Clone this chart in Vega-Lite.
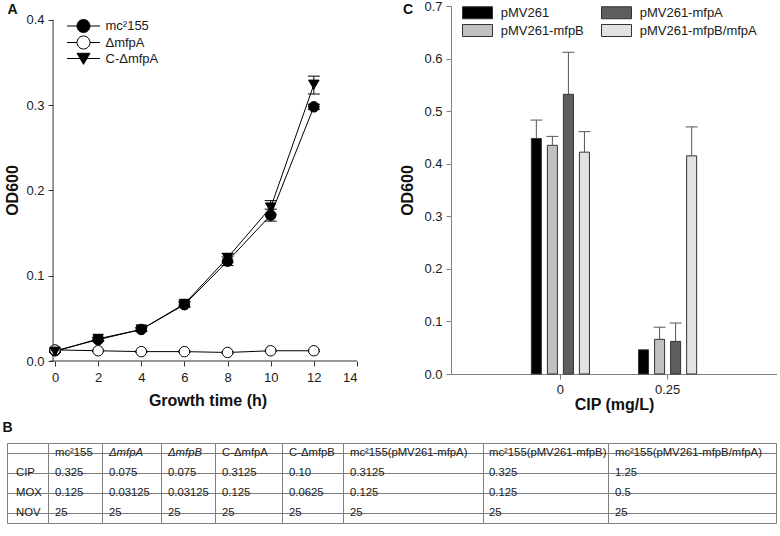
{
  "$schema": "https://vega.github.io/schema/vega-lite/v6.json",
  "padding": {"left": 2, "top": 0, "right": 0, "bottom": 0},
  "config": {
    "font": "Liberation Sans",
    "view": {"stroke": null},
    "axis": {"labelFont": "Liberation Sans", "labelFontSize": 13, "labelColor": "#1a1a1a", "titleFont": "Liberation Sans", "titleFontSize": 16, "titleFontWeight": "bold", "titleColor": "#111111", "grid": false, "tickSize": 5},
    "legend": {"labelFont": "Liberation Sans", "labelFontSize": 13, "labelColor": "#1a1a1a"},
    "title": {"font": "Liberation Sans", "fontSize": 14, "fontWeight": "bold", "color": "#111111", "anchor": "start", "frame": "bounds"}
  },
  "datasets": {
    "growth": [
      {"series": "mc²155", "t": 0, "od": 0.012, "lo": 0.011, "hi": 0.013},
      {"series": "mc²155", "t": 2, "od": 0.025, "lo": 0.023, "hi": 0.027},
      {"series": "mc²155", "t": 4, "od": 0.037, "lo": 0.035, "hi": 0.039},
      {"series": "mc²155", "t": 6, "od": 0.066, "lo": 0.063, "hi": 0.069},
      {"series": "mc²155", "t": 8, "od": 0.117, "lo": 0.112, "hi": 0.122},
      {"series": "mc²155", "t": 10, "od": 0.171, "lo": 0.164, "hi": 0.178},
      {"series": "mc²155", "t": 12, "od": 0.298, "lo": 0.295, "hi": 0.301},
      {"series": "ΔmfpA", "t": 0, "od": 0.013, "lo": 0.012, "hi": 0.014},
      {"series": "ΔmfpA", "t": 2, "od": 0.012, "lo": 0.011, "hi": 0.013},
      {"series": "ΔmfpA", "t": 4, "od": 0.011, "lo": 0.010, "hi": 0.012},
      {"series": "ΔmfpA", "t": 6, "od": 0.011, "lo": 0.010, "hi": 0.012},
      {"series": "ΔmfpA", "t": 8, "od": 0.010, "lo": 0.009, "hi": 0.011},
      {"series": "ΔmfpA", "t": 10, "od": 0.012, "lo": 0.011, "hi": 0.013},
      {"series": "ΔmfpA", "t": 12, "od": 0.012, "lo": 0.011, "hi": 0.013},
      {"series": "C-ΔmfpA", "t": 0, "od": 0.011, "lo": 0.010, "hi": 0.012},
      {"series": "C-ΔmfpA", "t": 2, "od": 0.026, "lo": 0.024, "hi": 0.028},
      {"series": "C-ΔmfpA", "t": 4, "od": 0.037, "lo": 0.035, "hi": 0.039},
      {"series": "C-ΔmfpA", "t": 6, "od": 0.067, "lo": 0.064, "hi": 0.070},
      {"series": "C-ΔmfpA", "t": 8, "od": 0.121, "lo": 0.116, "hi": 0.126},
      {"series": "C-ΔmfpA", "t": 10, "od": 0.180, "lo": 0.172, "hi": 0.188},
      {"series": "C-ΔmfpA", "t": 12, "od": 0.324, "lo": 0.313, "hi": 0.334}
    ],
    "bars": [
      {"cip": "0", "plasmid": "pMV261", "od": 0.448, "hi": 0.483},
      {"cip": "0", "plasmid": "pMV261-mfpB", "od": 0.435, "hi": 0.452},
      {"cip": "0", "plasmid": "pMV261-mfpA", "od": 0.532, "hi": 0.612},
      {"cip": "0", "plasmid": "pMV261-mfpB/mfpA", "od": 0.422, "hi": 0.461},
      {"cip": "0.25", "plasmid": "pMV261", "od": 0.046, "hi": null},
      {"cip": "0.25", "plasmid": "pMV261-mfpB", "od": 0.066, "hi": 0.089},
      {"cip": "0.25", "plasmid": "pMV261-mfpA", "od": 0.062, "hi": 0.097},
      {"cip": "0.25", "plasmid": "pMV261-mfpB/mfpA", "od": 0.415, "hi": 0.470}
    ],
    "mic": [
      {"col": 1, "row": "header", "text": ""},
      {"col": 1, "row": "CIP", "text": "CIP"},
      {"col": 1, "row": "MOX", "text": "MOX"},
      {"col": 1, "row": "NOV", "text": "NOV"},
      {"col": 2, "row": "header", "text": "mc²155"},
      {"col": 2, "row": "CIP", "text": "0.325"},
      {"col": 2, "row": "MOX", "text": "0.125"},
      {"col": 2, "row": "NOV", "text": "25"},
      {"col": 3, "row": "header", "text": "ΔmfpA"},
      {"col": 3, "row": "CIP", "text": "0.075"},
      {"col": 3, "row": "MOX", "text": "0.03125"},
      {"col": 3, "row": "NOV", "text": "25"},
      {"col": 4, "row": "header", "text": "ΔmfpB"},
      {"col": 4, "row": "CIP", "text": "0.075"},
      {"col": 4, "row": "MOX", "text": "0.03125"},
      {"col": 4, "row": "NOV", "text": "25"},
      {"col": 5, "row": "header", "text": "C-ΔmfpA"},
      {"col": 5, "row": "CIP", "text": "0.3125"},
      {"col": 5, "row": "MOX", "text": "0.125"},
      {"col": 5, "row": "NOV", "text": "25"},
      {"col": 6, "row": "header", "text": "C-ΔmfpB"},
      {"col": 6, "row": "CIP", "text": "0.10"},
      {"col": 6, "row": "MOX", "text": "0.0625"},
      {"col": 6, "row": "NOV", "text": "25"},
      {"col": 7, "row": "header", "text": "mc²155(pMV261-mfpA)"},
      {"col": 7, "row": "CIP", "text": "0.3125"},
      {"col": 7, "row": "MOX", "text": "0.125"},
      {"col": 7, "row": "NOV", "text": "25"},
      {"col": 8, "row": "header", "text": "mc²155(pMV261-mfpB)"},
      {"col": 8, "row": "CIP", "text": "0.325"},
      {"col": 8, "row": "MOX", "text": "0.125"},
      {"col": 8, "row": "NOV", "text": "25"},
      {"col": 9, "row": "header", "text": "mc²155(pMV261-mfpB/mfpA)"},
      {"col": 9, "row": "CIP", "text": "1.25"},
      {"col": 9, "row": "MOX", "text": "0.5"},
      {"col": 9, "row": "NOV", "text": "25"}
    ]
  },
  "resolve": {"scale": {"color": "independent", "fill": "independent", "shape": "independent", "stroke": "independent"}, "legend": {"color": "independent", "fill": "independent", "shape": "independent", "stroke": "independent"}},
  "spacing": 8,
  "vconcat": [
    {
      "spacing": 41,
      "resolve": {"scale": {"color": "independent", "fill": "independent", "shape": "independent", "stroke": "independent"}, "legend": {"color": "independent", "fill": "independent", "shape": "independent", "stroke": "independent"}},
      "hconcat": [
        {
          "width": 350,
          "height": 355,
          "title": {"text": "A", "offset": -11, "dx": 2.5},
          "resolve": {"scale": {"fill": "independent", "shape": "independent", "stroke": "independent"}, "legend": {"fill": "independent", "shape": "independent", "stroke": "independent"}},
          "layer": [
            {
              "data": {"name": "growth"},
              "mark": {"type": "line", "color": "black", "strokeWidth": 1},
              "encoding": {
                "x": {"field": "t", "type": "quantitative", "scale": {"domain": [-2.225, 14]},
                      "axis": {"values": [0, 2, 4, 6, 8, 10, 12, 14], "domain": false, "tickColor": "#333333", "labelPadding": 5, "title": "Growth time (h)", "titlePadding": 8, "titleX": 200.5}},
                "y": {"field": "od", "type": "quantitative", "scale": {"domain": [0, 0.4162]},
                      "axis": {"values": [0, 0.1, 0.2, 0.3, 0.4], "format": ".1f", "offset": -46, "domain": false, "tickColor": "#333333", "labelPadding": 4, "title": "OD600", "titlePadding": 5, "titleY": 184}},
                "detail": {"field": "series"},
                "order": {"field": "t"}
              }
            },
            {
              "data": {"values": [{}]},
              "mark": {"type": "rule", "color": "#333333", "strokeWidth": 1},
              "encoding": {
                "x": {"datum": -0.09, "type": "quantitative", "scale": {"domain": [-2.225, 14]}},
                "y": {"datum": 0, "type": "quantitative", "scale": {"domain": [0, 0.4162]}},
                "y2": {"datum": 0.4}
              }
            },
            {
              "data": {"values": [{}]},
              "mark": {"type": "rule", "color": "#333333", "strokeWidth": 1},
              "encoding": {
                "x": {"datum": -0.23, "type": "quantitative", "scale": {"domain": [-2.225, 14]}},
                "x2": {"datum": 14},
                "y": {"datum": 0, "type": "quantitative", "scale": {"domain": [0, 0.4162]}}
              }
            },
            {
              "data": {"name": "growth"},
              "mark": {"type": "rule", "color": "black", "strokeWidth": 1},
              "encoding": {
                "x": {"field": "t", "type": "quantitative", "scale": {"domain": [-2.225, 14]}},
                "y": {"field": "lo", "type": "quantitative", "scale": {"domain": [0, 0.4162]}},
                "y2": {"field": "hi"}
              }
            },
            {
              "data": {"name": "growth"},
              "mark": {"type": "tick", "orient": "horizontal", "size": 12, "thickness": 1, "color": "black", "opacity": 1},
              "encoding": {
                "x": {"field": "t", "type": "quantitative", "scale": {"domain": [-2.225, 14]}},
                "y": {"field": "hi", "type": "quantitative", "scale": {"domain": [0, 0.4162]}}
              }
            },
            {
              "data": {"name": "growth"},
              "mark": {"type": "tick", "orient": "horizontal", "size": 12, "thickness": 1, "color": "black", "opacity": 1},
              "encoding": {
                "x": {"field": "t", "type": "quantitative", "scale": {"domain": [-2.225, 14]}},
                "y": {"field": "lo", "type": "quantitative", "scale": {"domain": [0, 0.4162]}}
              }
            },
            {
              "data": {"name": "growth"},
              "mark": {"type": "point", "filled": true, "size": 110, "stroke": "black", "strokeWidth": 1, "opacity": 1},
              "encoding": {
                "x": {"field": "t", "type": "quantitative", "scale": {"domain": [-2.225, 14]}},
                "y": {"field": "od", "type": "quantitative", "scale": {"domain": [0, 0.4162]}},
                "shape": {"field": "series", "type": "nominal", "scale": {"domain": ["mc²155", "ΔmfpA", "C-ΔmfpA"], "range": ["circle", "circle", "triangle-down"]}, "legend": null},
                "fill": {"field": "series", "type": "nominal", "scale": {"domain": ["mc²155", "ΔmfpA", "C-ΔmfpA"], "range": ["black", "white", "black"]}, "legend": null}
              }
            },
            {
              "data": {"values": []},
              "mark": {"type": "point", "filled": true, "size": 169, "strokeWidth": 1, "opacity": 1},
              "encoding": {
                "shape": {"field": "series", "type": "nominal",
                  "scale": {"domain": ["mc²155", "ΔmfpA", "C-ΔmfpA"], "range": ["M-2.54,0H-1M1,0H2.54M1,0A1,1,0,1,1,-1,0A1,1,0,1,1,1,0Z", "M-2.54,0H-1M1,0H2.54M1,0A1,1,0,1,1,-1,0A1,1,0,1,1,1,0Z", "M-2.54,0H-0.5M0.5,0H2.54M-1,-0.8H1L0,0.9Z"]},
                  "legend": {"title": null, "orient": "none", "legendX": 69.5, "legendY": 13, "padding": 0, "symbolSize": 169, "labelOffset": 15, "rowPadding": -1.5, "labelFontSize": 13, "symbolStrokeWidth": 1, "symbolOpacity": 1}},
                "fill": {"field": "series", "type": "nominal",
                  "scale": {"domain": ["mc²155", "ΔmfpA", "C-ΔmfpA"], "range": ["black", "white", "black"]},
                  "legend": {"title": null, "orient": "none", "legendX": 69.5, "legendY": 13, "padding": 0, "symbolSize": 169, "labelOffset": 15, "rowPadding": -1.5, "labelFontSize": 13, "symbolStrokeWidth": 1, "symbolOpacity": 1}},
                "stroke": {"field": "series", "type": "nominal",
                  "scale": {"domain": ["mc²155", "ΔmfpA", "C-ΔmfpA"], "range": ["black", "black", "black"]},
                  "legend": {"title": null, "orient": "none", "legendX": 69.5, "legendY": 13, "padding": 0, "symbolSize": 169, "labelOffset": 15, "rowPadding": -1.5, "labelFontSize": 13, "symbolStrokeWidth": 1, "symbolOpacity": 1}}
              }
            }
          ]
        },
        {
          "width": 326,
          "height": 368,
          "title": {"text": "C", "offset": -17, "dx": 3},
          "data": {"name": "bars"},
          "layer": [
            {
              "mark": {"type": "bar", "stroke": "#333333", "strokeWidth": 1},
              "encoding": {
                "x": {"field": "cip", "type": "nominal", "scale": {"type": "band", "domain": ["0", "0.25"], "paddingInner": 0.159, "paddingOuter": 0.6},
                      "axis": {"labelAngle": 0, "domainColor": "#808080", "tickColor": "#808080", "labelPadding": 4, "title": "CIP (mg/L)", "titlePadding": 0}},
                "xOffset": {"field": "plasmid", "type": "nominal", "scale": {"type": "band", "domain": ["pMV261", "pMV261-mfpB", "pMV261-mfpA", "pMV261-mfpB/mfpA"], "paddingInner": 0.375, "paddingOuter": 1}},
                "y": {"field": "od", "type": "quantitative", "scale": {"domain": [0, 0.7]},
                      "axis": {"values": [0, 0.1, 0.2, 0.3, 0.4, 0.5, 0.6, 0.7], "format": ".1f", "domainColor": "#808080", "tickColor": "#808080", "labelPadding": 4, "title": "OD600", "titlePadding": 8}},
                "color": {"field": "plasmid", "type": "nominal",
                  "scale": {"domain": ["pMV261", "pMV261-mfpB", "pMV261-mfpA", "pMV261-mfpB/mfpA"], "range": ["#000000", "#c0c0c0", "#5e5e5e", "#e2e2e2"]},
                  "legend": {"title": null, "orient": "none", "legendX": 20, "legendY": 0, "columns": 2, "padding": 0,
                    "symbolType": "M-2.5,-1H2.5V1H-2.5Z", "symbolSize": 144, "symbolStrokeColor": "#333333", "symbolStrokeWidth": 1,
                    "labelOffset": 16.7, "columnPadding": 15, "rowPadding": 1, "labelFontSize": 13}}
              }
            },
            {
              "transform": [{"filter": "datum.hi != null"}],
              "mark": {"type": "rule", "color": "#555555", "strokeWidth": 1},
              "encoding": {
                "x": {"field": "cip", "type": "nominal", "scale": {"type": "band", "domain": ["0", "0.25"], "paddingInner": 0.159, "paddingOuter": 0.6}},
                "xOffset": {"field": "plasmid", "type": "nominal", "scale": {"type": "band", "domain": ["pMV261", "pMV261-mfpB", "pMV261-mfpA", "pMV261-mfpB/mfpA"], "paddingInner": 0.375, "paddingOuter": 1}},
                "y": {"field": "od", "type": "quantitative", "scale": {"domain": [0, 0.7]}},
                "y2": {"field": "hi"}
              }
            },
            {
              "transform": [{"filter": "datum.hi != null"}],
              "mark": {"type": "tick", "orient": "horizontal", "size": 12, "thickness": 1, "color": "#555555", "opacity": 1},
              "encoding": {
                "x": {"field": "cip", "type": "nominal", "scale": {"type": "band", "domain": ["0", "0.25"], "paddingInner": 0.159, "paddingOuter": 0.6}},
                "xOffset": {"field": "plasmid", "type": "nominal", "scale": {"type": "band", "domain": ["pMV261", "pMV261-mfpB", "pMV261-mfpA", "pMV261-mfpB/mfpA"], "paddingInner": 0.375, "paddingOuter": 1}},
                "y": {"field": "hi", "type": "quantitative", "scale": {"domain": [0, 0.7]}}
              }
            }
          ]
        }
      ]
    },
    {
      "title": {"text": "B", "offset": 8, "dx": -4},
      "spacing": 0,
      "bounds": "flush",
      "hconcat": [
        {"width": 41, "height": 80, "view": {"stroke": "#808080"}, "data": {"name": "mic"}, "transform": [{"filter": "datum.col === 1"}],
         "mark": {"type": "text", "align": "left", "baseline": "middle", "dx": 9, "fontSize": 11.3, "color": "#1a1a1a"},
         "encoding": {"x": {"datum": 0, "type": "quantitative", "scale": {"domain": [0, 1]}, "axis": null},
                      "y": {"field": "row", "type": "nominal", "scale": {"domain": ["header", "CIP", "MOX", "NOV"], "paddingInner": 0, "paddingOuter": 0}, "axis": {"labels": false, "ticks": false, "domain": false, "title": null, "grid": true, "gridColor": "#808080", "bandPosition": 0}},
                      "text": {"field": "text"}}},
        {"width": 54, "height": 80, "view": {"stroke": "#808080"}, "data": {"name": "mic"}, "transform": [{"filter": "datum.col === 2"}],
         "mark": {"type": "text", "align": "left", "baseline": "middle", "dx": 7, "fontSize": 11.3, "color": "#1a1a1a"},
         "encoding": {"x": {"datum": 0, "type": "quantitative", "scale": {"domain": [0, 1]}, "axis": null},
                      "y": {"field": "row", "type": "nominal", "scale": {"domain": ["header", "CIP", "MOX", "NOV"], "paddingInner": 0, "paddingOuter": 0}, "axis": {"labels": false, "ticks": false, "domain": false, "title": null, "grid": true, "gridColor": "#808080", "bandPosition": 0}},
                      "text": {"field": "text"}}},
        {"width": 59, "height": 80, "view": {"stroke": "#808080"}, "data": {"name": "mic"}, "transform": [{"filter": "datum.col === 3"}],
         "mark": {"type": "text", "align": "left", "baseline": "middle", "dx": 7, "fontSize": 11.3, "color": "#1a1a1a", "fontStyle": {"expr": "datum.row === 'header' ? 'italic' : 'normal'"}},
         "encoding": {"x": {"datum": 0, "type": "quantitative", "scale": {"domain": [0, 1]}, "axis": null},
                      "y": {"field": "row", "type": "nominal", "scale": {"domain": ["header", "CIP", "MOX", "NOV"], "paddingInner": 0, "paddingOuter": 0}, "axis": {"labels": false, "ticks": false, "domain": false, "title": null, "grid": true, "gridColor": "#808080", "bandPosition": 0}},
                      "text": {"field": "text"}}},
        {"width": 54, "height": 80, "view": {"stroke": "#808080"}, "data": {"name": "mic"}, "transform": [{"filter": "datum.col === 4"}],
         "mark": {"type": "text", "align": "left", "baseline": "middle", "dx": 7, "fontSize": 11.3, "color": "#1a1a1a", "fontStyle": {"expr": "datum.row === 'header' ? 'italic' : 'normal'"}},
         "encoding": {"x": {"datum": 0, "type": "quantitative", "scale": {"domain": [0, 1]}, "axis": null},
                      "y": {"field": "row", "type": "nominal", "scale": {"domain": ["header", "CIP", "MOX", "NOV"], "paddingInner": 0, "paddingOuter": 0}, "axis": {"labels": false, "ticks": false, "domain": false, "title": null, "grid": true, "gridColor": "#808080", "bandPosition": 0}},
                      "text": {"field": "text"}}},
        {"width": 67, "height": 80, "view": {"stroke": "#808080"}, "data": {"name": "mic"}, "transform": [{"filter": "datum.col === 5"}],
         "mark": {"type": "text", "align": "left", "baseline": "middle", "dx": 7, "fontSize": 11.3, "color": "#1a1a1a"},
         "encoding": {"x": {"datum": 0, "type": "quantitative", "scale": {"domain": [0, 1]}, "axis": null},
                      "y": {"field": "row", "type": "nominal", "scale": {"domain": ["header", "CIP", "MOX", "NOV"], "paddingInner": 0, "paddingOuter": 0}, "axis": {"labels": false, "ticks": false, "domain": false, "title": null, "grid": true, "gridColor": "#808080", "bandPosition": 0}},
                      "text": {"field": "text"}}},
        {"width": 61, "height": 80, "view": {"stroke": "#808080"}, "data": {"name": "mic"}, "transform": [{"filter": "datum.col === 6"}],
         "mark": {"type": "text", "align": "left", "baseline": "middle", "dx": 7, "fontSize": 11.3, "color": "#1a1a1a"},
         "encoding": {"x": {"datum": 0, "type": "quantitative", "scale": {"domain": [0, 1]}, "axis": null},
                      "y": {"field": "row", "type": "nominal", "scale": {"domain": ["header", "CIP", "MOX", "NOV"], "paddingInner": 0, "paddingOuter": 0}, "axis": {"labels": false, "ticks": false, "domain": false, "title": null, "grid": true, "gridColor": "#808080", "bandPosition": 0}},
                      "text": {"field": "text"}}},
        {"width": 140, "height": 80, "view": {"stroke": "#808080"}, "data": {"name": "mic"}, "transform": [{"filter": "datum.col === 7"}],
         "mark": {"type": "text", "align": "left", "baseline": "middle", "dx": 7, "fontSize": 11.3, "color": "#1a1a1a"},
         "encoding": {"x": {"datum": 0, "type": "quantitative", "scale": {"domain": [0, 1]}, "axis": null},
                      "y": {"field": "row", "type": "nominal", "scale": {"domain": ["header", "CIP", "MOX", "NOV"], "paddingInner": 0, "paddingOuter": 0}, "axis": {"labels": false, "ticks": false, "domain": false, "title": null, "grid": true, "gridColor": "#808080", "bandPosition": 0}},
                      "text": {"field": "text"}}},
        {"width": 125, "height": 80, "view": {"stroke": "#808080"}, "data": {"name": "mic"}, "transform": [{"filter": "datum.col === 8"}],
         "mark": {"type": "text", "align": "left", "baseline": "middle", "dx": 6, "fontSize": 11.3, "color": "#1a1a1a"},
         "encoding": {"x": {"datum": 0, "type": "quantitative", "scale": {"domain": [0, 1]}, "axis": null},
                      "y": {"field": "row", "type": "nominal", "scale": {"domain": ["header", "CIP", "MOX", "NOV"], "paddingInner": 0, "paddingOuter": 0}, "axis": {"labels": false, "ticks": false, "domain": false, "title": null, "grid": true, "gridColor": "#808080", "bandPosition": 0}},
                      "text": {"field": "text"}}},
        {"width": 168, "height": 80, "view": {"stroke": "#808080"}, "data": {"name": "mic"}, "transform": [{"filter": "datum.col === 9"}],
         "mark": {"type": "text", "align": "left", "baseline": "middle", "dx": 7, "fontSize": 11.3, "color": "#1a1a1a"},
         "encoding": {"x": {"datum": 0, "type": "quantitative", "scale": {"domain": [0, 1]}, "axis": null},
                      "y": {"field": "row", "type": "nominal", "scale": {"domain": ["header", "CIP", "MOX", "NOV"], "paddingInner": 0, "paddingOuter": 0}, "axis": {"labels": false, "ticks": false, "domain": false, "title": null, "grid": true, "gridColor": "#808080", "bandPosition": 0}},
                      "text": {"field": "text"}}}
      ]
    }
  ]
}
